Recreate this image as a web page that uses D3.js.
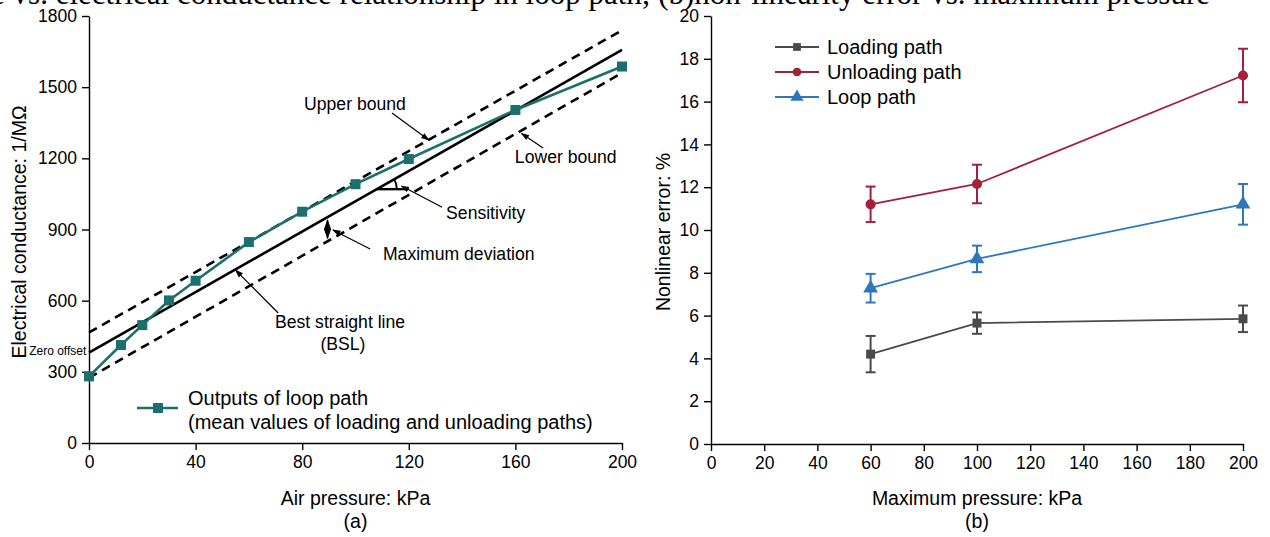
<!DOCTYPE html>
<html>
<head>
<meta charset="utf-8">
<script src="https://cdn.jsdelivr.net/npm/d3@7"></script>
<style>
  body { margin: 0; background: #fff; }
  svg text { font-family: "Liberation Sans", Arial, sans-serif; fill: #000; }
</style>
</head>
<body>
<div id="chart"></div>
<script>
// ---- data (a): loop path output vs air pressure
const loopPressure = [0, 12, 20, 30, 40, 60, 80, 100, 120, 160, 200];
const loopConductance = [281, 413, 497, 601, 684, 847, 975, 1091, 1197, 1404, 1587];
// straight lines given by their value at 0 and 200 kPa
const bslEnds = [381, 1657];
const upperEnds = [466, 1740];
const lowerEnds = [275, 1560];
const leftXTicks = [0, 40, 80, 120, 160, 200];
const leftYTicks = [0, 300, 600, 900, 1200, 1500, 1800];

// ---- data (b): nonlinear error vs maximum pressure
const maxPressure = [60, 100, 200];
const loadingErr = [4.2, 5.65, 5.85];
const loadingSd = [0.85, 0.5, 0.62];
const unloadingErr = [11.2, 12.15, 17.22];
const unloadingSd = [0.83, 0.9, 1.25];
const loopErr = [7.28, 8.65, 11.2];
const loopSd = [0.67, 0.62, 0.95];
const rightXTicks = [0, 20, 40, 60, 80, 100, 120, 140, 160, 180, 200];
const rightYTicks = [0, 2, 4, 6, 8, 10, 12, 14, 16, 18, 20];

const width = 1270, height = 537;

const svg = d3.select("#chart")
    .append("svg")
    .attr("width", width)
    .attr("height", height);

// arrow heads used by the annotations
const defs = svg.append("defs");
defs.append("marker")
    .attr("id", "arr")
    .attr("viewBox", "0 0 10 10")
    .attr("refX", 9).attr("refY", 5)
    .attr("markerWidth", 7).attr("markerHeight", 7)
    .attr("orient", "auto")
    .append("path")
    .attr("d", "M0,1.5 L10,5 L0,8.5 Z")
    .attr("fill", "#000");
defs.append("marker")
    .attr("id", "arrStart")
    .attr("viewBox", "0 0 10 10")
    .attr("refX", 1).attr("refY", 5)
    .attr("markerWidth", 7).attr("markerHeight", 7)
    .attr("orient", "auto")
    .append("path")
    .attr("d", "M10,1.5 L0,5 L10,8.5 Z")
    .attr("fill", "#000");

// caption that is cut off at the top of the picture
svg.append("text")
    .attr("x", 1210)
    .attr("y", 4)
    .attr("text-anchor", "end")
    .style("font-family", "'Liberation Serif', 'Times New Roman', serif")
    .style("font-size", "31px")
    .text("Air pressure vs. electrical conductance relationship in loop path; (b)non-linearity error vs. maximum pressure");

function styleAxis(g) {
    g.selectAll("path, line").attr("stroke", "#000").attr("stroke-width", 1.4);
    g.selectAll("text").style("font-size", "17.5px").attr("fill", "#000");
}

// ================= chart (a) =================
const xa = d3.scaleLinear().domain([0, 200]).range([89, 622]);
const ya = d3.scaleLinear().domain([0, 1800]).range([443, 16]);

svg.append("g")
    .attr("transform", `translate(0, ${ya(0)})`)
    .call(d3.axisBottom(xa).tickValues(leftXTicks).tickSize(7).tickSizeOuter(0).tickPadding(6))
    .call(styleAxis);

svg.append("g")
    .attr("transform", `translate(${xa(0)}, 0)`)
    .call(d3.axisLeft(ya).tickValues(leftYTicks).tickFormat(d3.format("d")).tickSize(7).tickSizeOuter(0).tickPadding(5))
    .call(styleAxis);

// straight lines
function straight(ends, dashed) {
    svg.append("line")
        .attr("x1", xa(0)).attr("y1", ya(ends[0]))
        .attr("x2", xa(200)).attr("y2", ya(ends[1]))
        .attr("stroke", "#000")
        .attr("stroke-width", 2.6)
        .attr("stroke-dasharray", dashed ? "9,6" : null);
}
straight(upperEnds, true);
straight(lowerEnds, true);
straight(bslEnds, false);

// loop path
const teal = "#1b6f6d";
const lineA = d3.line()
    .x((d, i) => xa(loopPressure[i]))
    .y(d => ya(d));
svg.append("path")
    .datum(loopConductance)
    .attr("d", lineA)
    .attr("fill", "none")
    .attr("stroke", teal)
    .attr("stroke-width", 2.6);
svg.selectAll("rect.loopPt")
    .data(loopConductance)
    .join("rect")
    .attr("class", "loopPt")
    .attr("x", (d, i) => xa(loopPressure[i]) - 5)
    .attr("y", d => ya(d) - 5)
    .attr("width", 10)
    .attr("height", 10)
    .attr("fill", teal);

// annotations (positions in data units)
function note(txt, x, y, anchor, size) {
    svg.append("text")
        .attr("x", xa(x)).attr("y", ya(y))
        .attr("text-anchor", anchor || "start")
        .style("font-size", (size || 17.6) + "px")
        .text(txt);
}
function arrow(x1, y1, x2, y2) {
    svg.append("line")
        .attr("x1", xa(x1)).attr("y1", ya(y1))
        .attr("x2", xa(x2)).attr("y2", ya(y2))
        .attr("stroke", "#000")
        .attr("stroke-width", 1.2)
        .attr("marker-end", "url(#arr)");
}
const bslAt = x => bslEnds[0] + (bslEnds[1] - bslEnds[0]) * x / 200;
const lowerAt = x => lowerEnds[0] + (lowerEnds[1] - lowerEnds[0]) * x / 200;

note("Upper bound", 99.8, 1405, "middle");
arrow(113.7, 1391, 127.5, 1277);

note("Lower bound", 159.8, 1180);
arrow(170.4, 1244, 162.3, 1305);

note("Sensitivity", 134, 946);
arrow(132.5, 994, 117.3, 1083);

note("Maximum deviation", 110.3, 771);
arrow(105.5, 818, 91.5, 898);

note("Best straight line", 94.2, 485, "middle");
note("(BSL)", 95.3, 392, "middle");
arrow(71, 548, 55, 729);

note("Zero offset", -1, 371, "end", 12);

// sensitivity angle
const sx = 108;
svg.append("line")
    .attr("x1", xa(sx)).attr("y1", ya(bslAt(sx)))
    .attr("x2", xa(119)).attr("y2", ya(bslAt(sx)))
    .attr("stroke", "#000").attr("stroke-width", 2.4);
const ang = Math.atan2(ya(bslEnds[0]) - ya(bslEnds[1]), xa(200) - xa(0));
const r = 20;
svg.append("path")
    .attr("d", `M${xa(sx) + r},${ya(bslAt(sx))} A${r},${r} 0 0 0 ${xa(sx) + r * Math.cos(ang)},${ya(bslAt(sx)) - r * Math.sin(ang)}`)
    .attr("fill", "none").attr("stroke", "#000").attr("stroke-width", 1.8);

// maximum deviation double arrow
const dx = 89.5;
svg.append("line")
    .attr("x1", xa(dx)).attr("y1", ya(bslAt(dx)) + 3)
    .attr("x2", xa(dx)).attr("y2", ya(lowerAt(dx)) - 3)
    .attr("stroke", "#000").attr("stroke-width", 1.5)
    .attr("stroke-dasharray", "3,2")
    .attr("marker-start", "url(#arrStart)")
    .attr("marker-end", "url(#arr)");

// legend (a)
const legA = svg.append("g").attr("transform", "translate(137, 408)");
legA.append("line").attr("x1", 0).attr("x2", 41).attr("stroke", teal).attr("stroke-width", 2.6);
legA.append("rect").attr("x", 16).attr("y", -5).attr("width", 10).attr("height", 10).attr("fill", teal);
legA.append("text").attr("x", 51).attr("y", -3).style("font-size", "20px").text("Outputs of loop path");
legA.append("text").attr("x", 51).attr("y", 21).style("font-size", "20px").text("(mean values of loading and unloading paths)");

// axis titles (a)
svg.append("text")
    .attr("transform", `translate(26, 232) rotate(-90)`)
    .attr("text-anchor", "middle")
    .style("font-size", "19.5px")
    .text("Electrical conductance: 1/MΩ");
svg.append("text")
    .attr("x", xa(100)).attr("y", 505)
    .attr("text-anchor", "middle")
    .style("font-size", "19.5px")
    .text("Air pressure: kPa");
svg.append("text")
    .attr("x", xa(100)).attr("y", 528)
    .attr("text-anchor", "middle")
    .style("font-size", "19.5px")
    .text("(a)");

// ================= chart (b) =================
const xb = d3.scaleLinear().domain([0, 200]).range([711, 1243]);
const yb = d3.scaleLinear().domain([0, 20]).range([444, 16]);

svg.append("g")
    .attr("transform", `translate(0, ${yb(0)})`)
    .call(d3.axisBottom(xb).tickValues(rightXTicks).tickSize(7).tickSizeOuter(0).tickPadding(6))
    .call(styleAxis);
svg.append("g")
    .attr("transform", `translate(${xb(0)}, 0)`)
    .call(d3.axisLeft(yb).tickValues(rightYTicks).tickSize(7).tickSizeOuter(0).tickPadding(5))
    .call(styleAxis);

const seriesB = [
    { name: "Loading path", vals: loadingErr, sd: loadingSd, color: "#4a4a4a", shape: d3.symbolSquare },
    { name: "Unloading path", vals: unloadingErr, sd: unloadingSd, color: "#a3203c", shape: d3.symbolCircle },
    { name: "Loop path", vals: loopErr, sd: loopSd, color: "#2e77bd", shape: d3.symbolTriangle }
];

const lineB = d3.line()
    .x((d, i) => xb(maxPressure[i]))
    .y(d => yb(d));

seriesB.forEach(function (s) {
    const g = svg.append("g");
    g.append("path")
        .datum(s.vals)
        .attr("d", lineB)
        .attr("fill", "none")
        .attr("stroke", s.color)
        .attr("stroke-width", 1.8);
    // error bars
    s.vals.forEach(function (v, i) {
        const x = xb(maxPressure[i]);
        g.append("line")
            .attr("x1", x).attr("x2", x)
            .attr("y1", yb(v - s.sd[i])).attr("y2", yb(v + s.sd[i]))
            .attr("stroke", s.color).attr("stroke-width", 2);
        [v - s.sd[i], v + s.sd[i]].forEach(function (e) {
            g.append("line")
                .attr("x1", x - 5).attr("x2", x + 5)
                .attr("y1", yb(e)).attr("y2", yb(e))
                .attr("stroke", s.color).attr("stroke-width", 2);
        });
    });
    g.selectAll("path.pt")
        .data(s.vals)
        .join("path")
        .attr("class", "pt")
        .attr("transform", (d, i) => `translate(${xb(maxPressure[i])}, ${yb(d)})`)
        .attr("d", d3.symbol().type(s.shape).size(s.shape === d3.symbolTriangle ? 95 : 80))
        .attr("fill", s.color);
});

// legend (b)
const legB = svg.append("g").attr("transform", "translate(775, 47)");
seriesB.forEach(function (s, i) {
    const row = legB.append("g").attr("transform", `translate(0, ${i * 25})`);
    row.append("line").attr("x1", 0).attr("x2", 44).attr("stroke", s.color).attr("stroke-width", 1.8);
    row.append("path")
        .attr("transform", "translate(22, 0)")
        .attr("d", d3.symbol().type(s.shape).size(s.shape === d3.symbolTriangle ? 75 : 60))
        .attr("fill", s.color);
    row.append("text").attr("x", 52).attr("y", 7).style("font-size", "20px").text(s.name);
});

// axis titles (b)
svg.append("text")
    .attr("transform", `translate(670, 232) rotate(-90)`)
    .attr("text-anchor", "middle")
    .style("font-size", "19.5px")
    .text("Nonlinear error: %");
svg.append("text")
    .attr("x", xb(100)).attr("y", 505)
    .attr("text-anchor", "middle")
    .style("font-size", "19.5px")
    .text("Maximum pressure: kPa");
svg.append("text")
    .attr("x", xb(100)).attr("y", 528)
    .attr("text-anchor", "middle")
    .style("font-size", "19.5px")
    .text("(b)");
</script>
</body>
</html>
